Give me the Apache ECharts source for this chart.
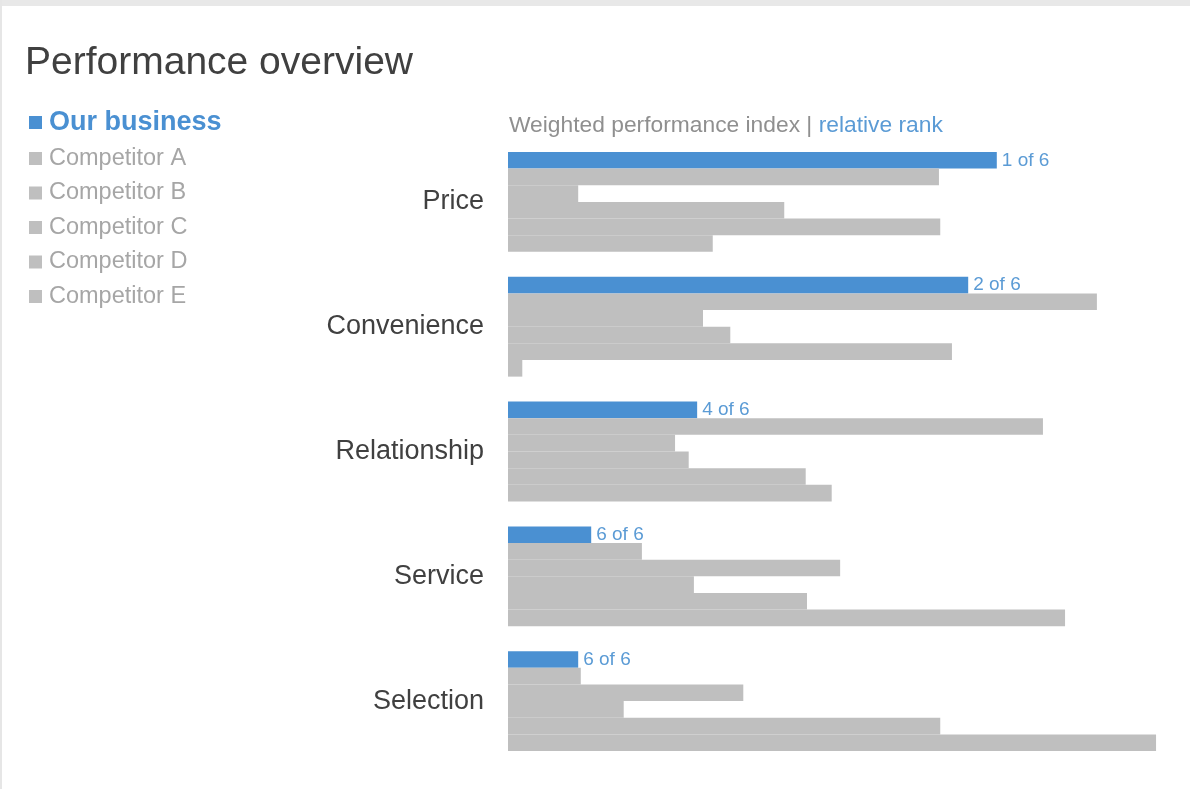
<!DOCTYPE html>
<html>
<head>
<meta charset="utf-8">
<script src="https://cdn.jsdelivr.net/npm/echarts@6/dist/echarts.min.js"></script>
<style>
html,body{margin:0;padding:0;background:#fff;}
#chart{width:1190px;height:789px;}
</style>
</head>
<body>
<div id="chart"></div>
<script>
const categories = ['Price', 'Convenience', 'Relationship', 'Service', 'Selection'];
const seriesNames = ['Our business', 'Competitor A', 'Competitor B', 'Competitor C', 'Competitor D', 'Competitor E'];
const ourBusiness = [75.2, 70.8, 29.1, 12.8, 10.8];
const competitorA = [66.3, 90.6, 82.3, 20.6, 11.2];
const competitorB = [10.8, 30.0, 25.7, 51.1, 36.2];
const competitorC = [42.5, 34.2, 27.8, 28.6, 17.8];
const competitorD = [66.5, 68.3, 45.8, 46.0, 66.5];
const competitorE = [31.5, 2.2, 49.8, 85.7, 99.7];
const ranks = ['1 of 6', '2 of 6', '4 of 6', '6 of 6', '6 of 6'];

const BLUE = '#4a90d2';
const GREY = '#bfbfbf';
const FONT = '"Liberation Sans", Arial, sans-serif';

const allValues = [ourBusiness, competitorA, competitorB, competitorC, competitorD, competitorE];

const series = allValues.map((vals, i) => ({
  name: seriesNames[i],
  type: 'bar',
  data: vals,
  barGap: '0%',
  barCategoryGap: '20%',
  itemStyle: { color: i === 0 ? BLUE : GREY },
  emphasis: { disabled: true },
  label: i === 0 ? {
    show: true,
    position: 'right',
    distance: 5,
    formatter: p => ranks[p.dataIndex],
    color: '#5b9bd5',
    fontSize: 19,
    fontFamily: FONT
  } : { show: false }
}));

const chart = echarts.init(document.getElementById('chart'), null, { renderer: 'canvas' });
chart.setOption({
  animation: false,
  backgroundColor: '#ffffff',
  graphic: [
    { type: 'rect', shape: { x: 0, y: 0, width: 1190, height: 6 }, style: { fill: '#e8e8e8' }, silent: true },
    { type: 'rect', shape: { x: 0, y: 0, width: 2, height: 789 }, style: { fill: '#e6e6e6' }, silent: true }
  ],
  title: [
    {
      text: 'Performance overview',
      left: 25,
      top: 44,
      padding: 0,
      textStyle: { fontSize: 39, fontWeight: 'normal', color: '#404040', fontFamily: FONT }
    },
    {
      text: '{g|Weighted performance index |}{b| relative rank}',
      left: 509,
      top: 114,
      padding: 0,
      textStyle: {
        fontFamily: FONT,
        fontWeight: 'normal',
        rich: {
          g: { fontSize: 22.8, color: '#8f8f8f', fontWeight: 'normal', fontFamily: FONT },
          b: { fontSize: 22.8, color: '#5b9bd5', fontWeight: 'normal', fontFamily: FONT }
        }
      }
    }
  ],
  legend: {
    orient: 'vertical',
    left: 29,
    top: 109,
    padding: 0,
    icon: 'rect',
    itemWidth: 13,
    itemHeight: 13,
    itemGap: 10.5,
    itemTextGap: 8.5,
    selectedMode: false,
    data: seriesNames,
    formatter: name => name === seriesNames[0] ? '{b|' + name + '}' : '{c|' + name + '}',
    textStyle: {
      fontFamily: FONT,
      rich: {
        b: { fontSize: 27, fontWeight: 'bold', color: BLUE, lineHeight: 20, padding: [0, 0, 0, 2], fontFamily: FONT },
        c: { fontSize: 23.5, color: '#a6a6a6', lineHeight: 24, padding: [0, 0, 0, 2], fontFamily: FONT }
      }
    }
  },
  grid: { left: 508, top: 139.5, width: 650, height: 624, containLabel: false },
  xAxis: {
    type: 'value',
    min: 0,
    max: 100,
    show: false
  },
  yAxis: {
    type: 'category',
    data: categories,
    inverse: true,
    axisLine: { show: false },
    axisTick: { show: false },
    splitLine: { show: false },
    axisLabel: { fontSize: 27, color: '#404040', margin: 24, fontFamily: FONT }
  },
  series: series
});
</script>
</body>
</html>
